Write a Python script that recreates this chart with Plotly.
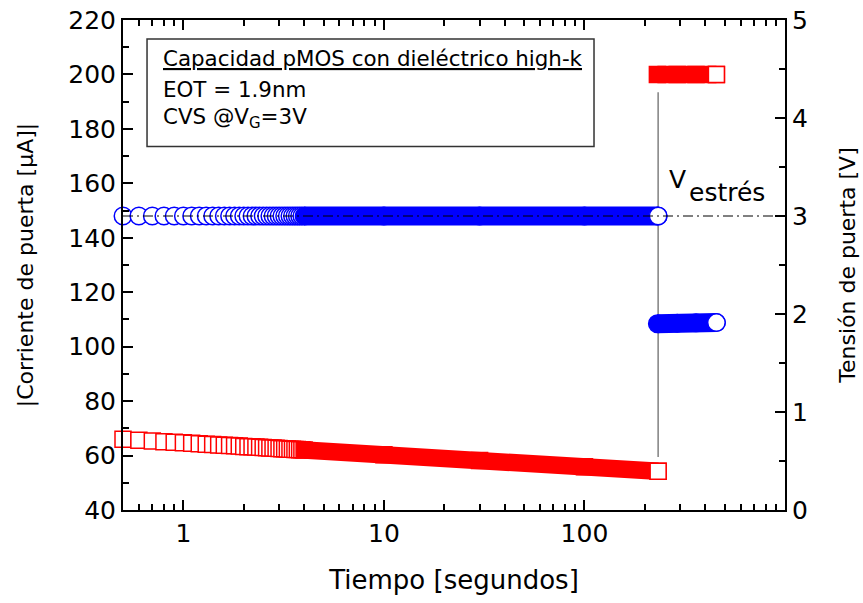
import math
import plotly.graph_objects as go

# ---------------- data ----------------
# Stress phase, early samples (individual markers visible), time in s
t_stress = [0.5, 0.6, 0.7, 0.8, 0.9, 1.0, 1.1, 1.2, 1.3, 1.4, 1.5, 1.6, 1.7, 1.8,
            1.9, 2.0, 2.1, 2.2, 2.3, 2.4, 2.5, 2.6, 2.7, 2.8, 2.9, 3.0, 3.1, 3.2,
            3.3, 3.4, 3.5, 3.6, 3.7, 3.8, 3.9]
i_stress = [66.0, 65.65, 65.36, 65.11, 64.88, 64.68, 64.50, 64.34, 64.19, 64.05,
            63.92, 63.79, 63.68, 63.57, 63.47, 63.37, 63.28, 63.19, 63.10, 63.02,
            62.95, 62.87, 62.80, 62.73, 62.66, 62.60, 62.54, 62.48, 62.42, 62.36,
            62.31, 62.25, 62.20, 62.15, 62.10]
v_stress_level = 3.0  # V_estres (constant gate voltage during CVS)
v_stress = [v_stress_level] * len(t_stress)

# Stress phase, later samples (markers merge into a solid band)
t_stress_dense = [4.0, 10.0, 30.0, 100.0, 233.0]
i_stress_dense = [62.05, 60.3, 58.2, 55.9, 54.2]
v_stress_dense = [v_stress_level] * len(t_stress_dense)

# Post-stress phase
t_post = [231.0, 290.0, 360.0, 455.0]
i_post = [200.0, 200.0, 200.0, 200.0]
v_post = [1.90, 1.905, 1.91, 1.912]

# Vertical marker line at end of stress (left axis, µA)
t_mark = [233.0, 233.0]
i_mark = [59.5, 193.5]

x_ticks = [1, 10, 100]
x_ticktext = ["1", "10", "100"]
x_minor = [0.6, 0.7, 0.8, 0.9, 2, 3, 4, 5, 6, 7, 8, 9, 20, 30, 40, 50, 60, 70, 80, 90,
           200, 300, 400, 500, 600, 700, 800, 900]

# ---------------- styles ----------------
RED = "#FF0000"
BLUE = "#0000FF"
FONT = "DejaVu Sans"
SQ = 16      # square marker size
CI = 17.5    # circle marker size
MLW = 1.5

fig = go.Figure()

# gray vertical line
fig.add_trace(go.Scatter(x=t_mark, y=i_mark, mode="lines",
                         line=dict(color="#808080", width=1.5), yaxis="y",
                         hoverinfo="skip"))

# ---- current (left axis, red squares)
fig.add_trace(go.Scatter(x=t_stress, y=i_stress, mode="markers", yaxis="y",
                         cliponaxis=False,
                         marker=dict(symbol="square", size=SQ, color="white",
                                     line=dict(color=RED, width=MLW))))
fig.add_trace(go.Scatter(x=t_stress_dense, y=i_stress_dense, mode="lines+markers",
                         yaxis="y", cliponaxis=False,
                         line=dict(color=RED, width=SQ + MLW),
                         marker=dict(symbol="square", size=SQ, color=RED,
                                     line=dict(color=RED, width=MLW))))
fig.add_trace(go.Scatter(x=t_stress_dense[-1:], y=i_stress_dense[-1:], mode="markers",
                         yaxis="y", cliponaxis=False,
                         marker=dict(symbol="square", size=SQ, color="white",
                                     line=dict(color=RED, width=MLW))))
fig.add_trace(go.Scatter(x=t_post, y=i_post, mode="lines+markers", yaxis="y",
                         cliponaxis=False,
                         line=dict(color=RED, width=SQ + MLW),
                         marker=dict(symbol="square", size=SQ, color=RED,
                                     line=dict(color=RED, width=MLW))))
fig.add_trace(go.Scatter(x=t_post[-1:], y=i_post[-1:], mode="markers", yaxis="y",
                         cliponaxis=False,
                         marker=dict(symbol="square", size=SQ, color="white",
                                     line=dict(color=RED, width=MLW))))

# ---- voltage (right axis, blue circles)
fig.add_trace(go.Scatter(x=t_stress, y=v_stress, mode="markers", yaxis="y2",
                         cliponaxis=False,
                         marker=dict(symbol="circle", size=CI, color="white",
                                     line=dict(color=BLUE, width=MLW))))
fig.add_trace(go.Scatter(x=t_stress_dense, y=v_stress_dense, mode="lines+markers",
                         yaxis="y2", cliponaxis=False,
                         line=dict(color=BLUE, width=CI + MLW),
                         marker=dict(symbol="circle", size=CI, color=BLUE,
                                     line=dict(color=BLUE, width=MLW))))
fig.add_trace(go.Scatter(x=t_stress_dense[-1:], y=v_stress_dense[-1:], mode="markers",
                         yaxis="y2", cliponaxis=False,
                         marker=dict(symbol="circle", size=CI, color="white",
                                     line=dict(color=BLUE, width=MLW))))
fig.add_trace(go.Scatter(x=t_post, y=v_post, mode="lines+markers", yaxis="y2",
                         cliponaxis=False,
                         line=dict(color=BLUE, width=CI + MLW),
                         marker=dict(symbol="circle", size=CI, color=BLUE,
                                     line=dict(color=BLUE, width=MLW))))
fig.add_trace(go.Scatter(x=t_post[-1:], y=v_post[-1:], mode="markers", yaxis="y2",
                         cliponaxis=False,
                         marker=dict(symbol="circle", size=CI, color="white",
                                     line=dict(color=BLUE, width=MLW))))

# dash-dot reference line at V_estres
fig.add_shape(type="line", xref="paper", x0=0, x1=1, yref="y2",
              y0=v_stress_level, y1=v_stress_level,
              line=dict(color="black", width=1, dash="10px,4px,2px,4px"),
              layer="above")

# text box
fig.add_shape(type="rect", xref="paper", yref="paper",
              x0=0.0363, x1=0.7115, y0=0.7418, y1=0.9612,
              line=dict(color="#333333", width=1.5), fillcolor="rgba(0,0,0,0)")
box_lines = ["<u>Capacidad pMOS con dieléctrico high-k</u>",
             "EOT = 1.9nm",
             "CVS @V<sub>G</sub>=3V"]
box_y = [0.922, 0.858, 0.800]
for txt, yy in zip(box_lines, box_y):
    fig.add_annotation(text=txt, xref="paper", yref="paper", x=0.0574, y=yy,
                       xanchor="left", yanchor="middle", showarrow=False,
                       font=dict(family=FONT, size=21.4, color="black"))

# V_estres label
fig.add_annotation(text="V", xref="paper", yref="paper", x=0.8369, y=0.674,
                   xanchor="center", yanchor="middle", showarrow=False,
                   font=dict(family=FONT, size=25, color="black"))
fig.add_annotation(text="estrés", xref="paper", yref="paper", x=0.9124, y=0.648,
                   xanchor="center", yanchor="middle", showarrow=False,
                   font=dict(family=FONT, size=25, color="black"))

axis_common = dict(showline=True, linecolor="black", linewidth=2,
                   ticks="inside", tickwidth=1.5, tickcolor="black",
                   showgrid=False, zeroline=False, automargin=False,
                   tickfont=dict(family=FONT, size=25, color="black"))

fig.update_layout(
    width=863, height=603,
    margin=dict(l=123, r=78, t=20, b=93),
    paper_bgcolor="white", plot_bgcolor="white",
    showlegend=False,
    xaxis=dict(type="log", range=[math.log10(0.5), 3],
               tickvals=x_ticks, ticktext=x_ticktext, ticklen=10,
               mirror="ticks",
               minor=dict(tickvals=x_minor, ticks="inside", ticklen=6,
                          tickwidth=1.5, tickcolor="black"),
               title=dict(text="Tiempo [segundos]", standoff=24,
                          font=dict(family=FONT, size=26, color="black")),
               **axis_common),
    yaxis=dict(range=[40, 220], tick0=40, dtick=20, ticklen=10,
               minor=dict(dtick=10, ticks="inside", ticklen=6, tickwidth=1.5,
                          tickcolor="black"),
               title=dict(text="|Corriente de puerta [µA]|", standoff=29,
                          font=dict(family=FONT, size=22, color="black")),
               **axis_common),
    yaxis2=dict(range=[0, 5], tick0=0, dtick=1, ticklen=10, overlaying="y",
                side="right",
                minor=dict(dtick=0.5, ticks="inside", ticklen=6, tickwidth=1.5,
                           tickcolor="black"),
                title=dict(text="Tensión de puerta [V]", standoff=33,
                           font=dict(family=FONT, size=22, color="black")),
                **axis_common),
)

fig.write_html("out.html")
